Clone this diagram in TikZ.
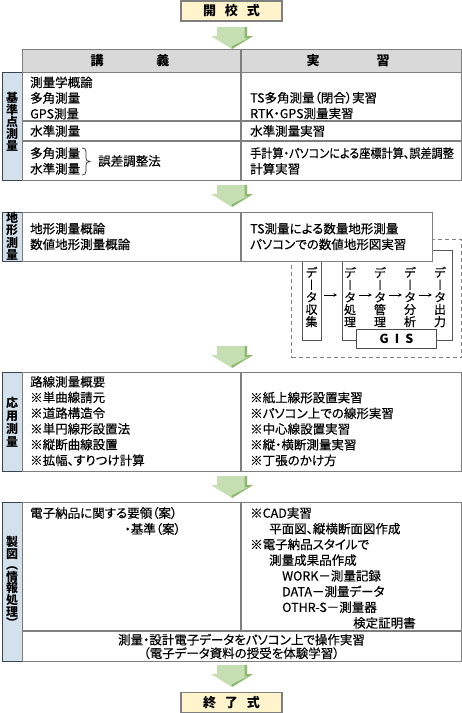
\documentclass[tikz,border=0pt]{standalone}
\usepackage{fontspec}
\setmainfont{Noto Sans CJK JP}[Script=CJK, RawFeature={+palt}, UprightFeatures={FakeBold=0.35}]
\usetikzlibrary{arrows.meta}
\definecolor{tblgray}{HTML}{7F7F7F}
\definecolor{labborder}{HTML}{3A4450}
\definecolor{labfill}{HTML}{D3E1ED}
\definecolor{headfill}{HTML}{D9D9D9}
\definecolor{cerfill}{HTML}{FFF4CC}
\definecolor{arrowlight}{HTML}{C5DFB2}
\definecolor{arrowdark}{HTML}{8DB96E}
\definecolor{dashgray}{HTML}{808080}
\newcommand\bodyfont{\fontsize{12.5}{15.7}\selectfont}
\newcommand\boldhead{\fontsize{13}{13}\selectfont\bfseries}
\tikzset{
  cell/.style={draw=tblgray, line width=1.2pt, inner sep=0pt, anchor=north west},
  labcell/.style={draw=labborder, fill=labfill, line width=1.1pt, inner sep=0pt, anchor=north west},
  txt/.style={inner sep=0pt, anchor=west, align=left, font=\bodyfont},
  ctxt/.style={inner sep=0pt, align=center, font=\fontsize{12.5}{13.5}\selectfont},
  vlab/.style={inner sep=0pt, align=center},
  vtxt/.style={inner sep=0pt, align=center, font=\fontsize{12}{12.3}\selectfont},
  ceremony/.style={draw=tblgray, fill=cerfill, line width=1.2pt, minimum width=101pt, minimum height=20pt, inner sep=0pt, font=\boldhead},
  gline/.style={draw=black!65, line width=1pt, inner sep=0pt, anchor=north west},
  gisbox/.style={draw=black!70, fill=white, line width=1.2pt, minimum width=80pt, minimum height=19pt, inner sep=0pt, font=\fontsize{12.5}{12.5}\selectfont\bfseries},
  smallarrow/.style={-{Stealth[length=3.5pt,width=3.5pt]}, line width=0.7pt, black},
  tline/.style={draw=tblgray, line width=1.2pt},
  greenarrow/.pic={
    \fill[arrowlight] (-15,0) -- (15,0) -- (15,9) -- (21,9) -- (0,22) -- (-21,9) -- (-15,9) -- cycle;
    \fill[arrowdark] (12.5,0) -- (15,0) -- (15,9) -- (21,9) -- (0,22) -- (-0.5,19.5) -- (16.5,11) -- (12.5,11) -- cycle;
  }
}
\begin{document}
\begin{tikzpicture}[x=1pt, y=-1pt]
\useasboundingbox (0,0) rectangle (462,713);

% opening ceremony
\node[ceremony] (open) at (231.5,11) {開\hspace{9pt}校\hspace{9pt}式};
\pic at (232,27) {greenarrow};

% header
\node[cell, fill=headfill, minimum width=439pt, minimum height=23pt] (head) at (22,49) {};
\node[inner sep=0pt, font=\boldhead] (hL) at (130,61) {講\hspace{53pt}義};
\node[inner sep=0pt, font=\boldhead] (hR) at (348,61) {実\hspace{57pt}習};

% section 1
\node[labcell, minimum width=20pt, minimum height=108pt] (lab1) at (2,72) {};
\node[cell, minimum width=439pt, minimum height=108pt] (tab1) at (22,72) {};
\draw[tline] (241,49) -- (241,180);
\draw[tline] (22,121) -- (461,121);
\draw[tline] (22,141) -- (461,141);
\node[vlab, font=\fontsize{12}{12}\selectfont\bfseries] (l1) at (12,122) {基\\準\\点\\測\\量};
\node[txt] (s1a) at (30,98) {測量学概論\\多角測量\\GPS測量};
\node[txt] (s1b) at (250,105.5) {TS多角測量（閉合）実習\\RTK・GPS測量実習};
\node[txt] (s1c) at (30,131) {水準測量};
\node[txt] (s1d) at (250,131) {水準測量実習};
\node[txt] (s1e) at (30,161) {多角測量\\水準測量};
\draw[line width=0.7pt, black!80] (82,148) .. controls (85,148) and (86,149) .. (86,152) -- (86,158) .. controls (86,160) and (87,161.5) .. (90,161.5) .. controls (87,161.5) and (86,163) .. (86,165) -- (86,171) .. controls (86,174) and (85,175) .. (82,175);
\node[txt] (s1f) at (98,161) {誤差調整法};
\node[txt] (s1g) at (250,161) {\scalebox{0.89}[1]{手計算・パソコンによる座標計算、誤差調整}\\計算実習};
\pic at (232,185) {greenarrow};

% GIS sketch (behind section 2)
\node[draw=dashgray, dashed, dash pattern=on 4pt off 3pt, line width=1pt, inner sep=0pt, anchor=north west, minimum width=170pt, minimum height=118pt] (dashbox) at (291,239) {};
\node[gline, minimum width=19pt, minimum height=91pt] (collect) at (302,249) {};
\node[gline, minimum width=110pt, minimum height=90pt] (gisgroup) at (342,250) {};

% section 2
\node[labcell, minimum width=20pt, minimum height=49pt] (lab2) at (2,212) {};
\node[cell, fill=white, minimum width=410pt, minimum height=49pt] (tab2) at (22,212) {};
\draw[tline] (241,212) -- (241,261);
\node[vlab, font=\fontsize{12}{12.5}\selectfont\bfseries] (l2) at (12,236.5) {地\\形\\測\\量};
\node[txt] (s2a) at (30,236.5) {地形測量概論\\数値地形測量概論};
\node[txt] (s2b) at (250,236.5) {TS測量による数量地形測量\\パソコンでの数値地形図実習};

\node[gisbox] (gis) at (396.5,339) {G\hspace{6pt}I\hspace{6pt}S};
\node[vtxt] (vcollect) at (311.5,297) {デ\\︱\\タ\\収\\集};
\node[vtxt] (vproc) at (350,297) {デ\\︱\\タ\\処\\理};
\node[vtxt] (vmgmt) at (380,297) {デ\\︱\\タ\\管\\理};
\node[vtxt] (vanal) at (410,297) {デ\\︱\\タ\\分\\析};
\node[vtxt] (vout) at (440,297) {デ\\︱\\タ\\出\\力};
\coordinate (ay) at (0,295);
\draw[smallarrow, shorten <=2pt, shorten >=5pt] (collect.east |- ay) -- (gisgroup.west |- ay);
\draw[smallarrow, shorten <=3pt, shorten >=2pt] (vproc.east |- ay) -- (vmgmt.west |- ay);
\draw[smallarrow, shorten <=3pt, shorten >=2pt] (vmgmt.east |- ay) -- (vanal.west |- ay);
\draw[smallarrow, shorten <=3pt, shorten >=2pt] (vanal.east |- ay) -- (vout.west |- ay);

\pic at (232,346) {greenarrow};

% section 3
\node[labcell, minimum width=20pt, minimum height=99pt] (lab3) at (2,372) {};
\node[cell, minimum width=439pt, minimum height=99pt] (tab3) at (22,372) {};
\draw[tline] (241,372) -- (241,471);
\node[vlab, font=\fontsize{12}{13}\selectfont\bfseries] (l3) at (12,422) {応\\用\\測\\量};
\node[txt] (s3a) at (30,421) {路線測量概要\\※単曲線請元\\※道路構造令\\※単円線形設置法\\※縦断曲線設置\\※拡幅、すりつけ計算};
\node[txt] (s3b) at (250,429) {※紙上線形設置実習\\※パソコン上での線形実習\\※中心線設置実習\\※縦・横断測量実習\\※丁張のかけ方};
\pic at (232,476) {greenarrow};

% section 4
\node[labcell, minimum width=20pt, minimum height=159pt] (lab4) at (2,502) {};
\node[cell, minimum width=439pt, minimum height=159pt] (tab4) at (22,502) {};
\draw[tline] (241,502) -- (241,631);
\draw[tline] (22,631) -- (461,631);
\node[vlab, font=\fontsize{12}{11.6}\selectfont\bfseries] (l4) at (12,582) {製\\図\\︵\\情\\報\\処\\理\\︶};
\node[txt] (s4a) at (30,513) {電子納品に関する要領（案）};
\node[txt, anchor=east] (s4b) at (181,529) {・基準（案）};
\node[txt] (s4c) at (250,568) {※CAD実習\\\hspace*{19pt}平面図、縦横断面図作成\\※電子納品スタイルで\\\hspace*{19pt}測量成果品作成\\\hspace*{32pt}WORK－測量記録\\\hspace*{32pt}DATA－測量データ\\\hspace*{32pt}OTHR-S－測量器\\\hspace*{103pt}検定証明書};
\node[ctxt] (s4d) at (241.5,646.5) {測量・設計電子データをパソコン上で操作実習\\（電子データ資料の授受を体験学習）};
\pic at (232,665) {greenarrow};

% closing ceremony
\node[ceremony] (close) at (231.5,702.5) {終\hspace{9pt}了\hspace{9pt}式};
\end{tikzpicture}
\end{document}
